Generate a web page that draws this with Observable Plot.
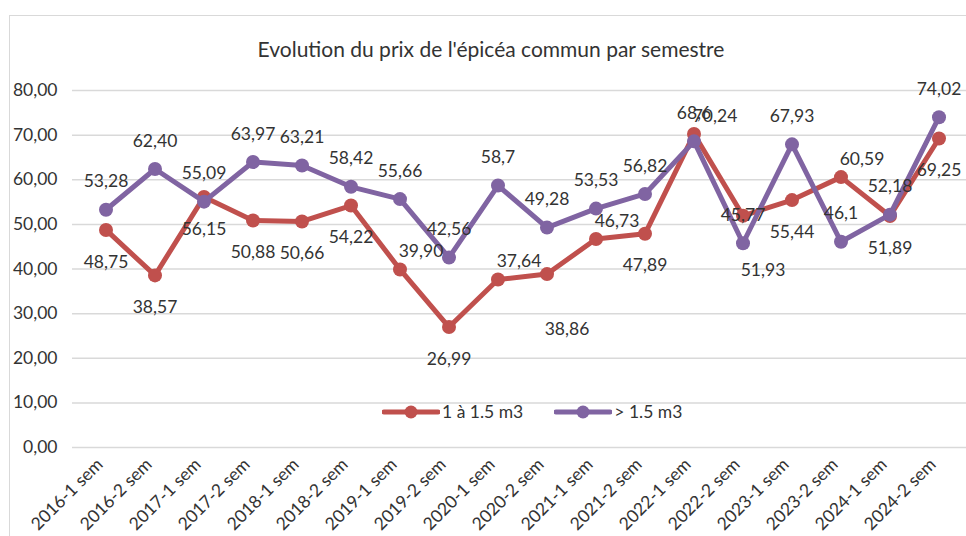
<!DOCTYPE html>
<html>
<head>
<meta charset="utf-8">
<script src="https://cdn.jsdelivr.net/npm/d3@7"></script>
<script src="https://cdn.jsdelivr.net/npm/@observablehq/plot@0.6"></script>
<style>
  html, body { margin: 0; padding: 0; background: #fff; overflow: hidden; }
  #wrap { position: relative; width: 966px; height: 536px; font-family: Lato, "Open Sans", sans-serif; }
  #border { position: absolute; left: 9px; top: 15px; width: 1000px; height: 600px; border: 1.5px solid #d9d9d9; box-sizing: border-box; }
  #title { position: absolute; left: 0; top: 36px; width: 982px; text-align: center; font-size: 21px; color: #333; }
  #chart { position: absolute; left: 0; top: 0; }
  #legend { position: absolute; top: 401px; left: 382px; display: flex; align-items: center; font-size: 17.5px; color: #333; }
  #legend .item { display: flex; align-items: center; margin-right: 31px; }
  #legend svg { margin-right: 2px; }
</style>
</head>
<body>
<div id="wrap">
  <div id="border"></div>
  <div id="chart"></div>
  <div id="title"></div>
  <div id="legend"></div>
</div>
<script>
const titleText = "Evolution du prix de l'épicéa commun par semestre";
const categories = ["2016-1 sem","2016-2 sem","2017-1 sem","2017-2 sem","2018-1 sem","2018-2 sem","2019-1 sem","2019-2 sem","2020-1 sem","2020-2 sem","2021-1 sem","2021-2 sem","2022-1 sem","2022-2 sem","2023-1 sem","2023-2 sem","2024-1 sem","2024-2 sem"];
const seriesNames = ["1 à 1.5 m3", "> 1.5 m3"];
const smallLogs = ["48.75","38.57","56.15","50.88","50.66","54.22","39.90","26.99","37.64","38.86","46.73","47.89","70.24","51.93","55.44","60.59","51.89","69.25"];
const bigLogs = ["53.28","62.40","55.09","63.97","63.21","58.42","55.66","42.56","58.7","49.28","53.53","56.82","68.6","45.77","67.93","46.1","52.18","74.02"];
const yTicks = [0, 10, 20, 30, 40, 50, 60, 70, 80];
const colors = ["#c0504d", "#8064a2"];

// label placement (style only)
const smallPlace = ["b","b","b","b","b","b","ar","b","ar","bb","ar","b","ar","bb","b","ar","b","b"];
const bigPlace = categories.map(() => "a");
const offsets = { a: [0, -28], b: [0, 32], ar: [21, -18], bb: [20, 55] };

const data = [];
[smallLogs, bigLogs].forEach((arr, si) => {
  arr.forEach((s, i) => data.push({
    series: seriesNames[si], cat: categories[i], v: +s, label: s.replace(".", ","),
    place: (si === 0 ? smallPlace : bigPlace)[i]
  }));
});

const fs = 17.5;
const marks = [
  Plot.ruleY(yTicks, { stroke: "#d9d9d9", strokeWidth: 1.5 }),
  Plot.axisY(yTicks, { tickSize: 0, tickPadding: 15, fontSize: fs, fill: "#333",
    tickFormat: d => d.toFixed(2).replace(".", ",") }),
  Plot.axisX({ tickSize: 0, tickRotate: -45, tickPadding: 4, dx: -6, dy: 10, fontSize: fs, fill: "#333" })
];
seriesNames.forEach((name, si) => {
  const d = data.filter(e => e.series === name);
  marks.push(Plot.line(d, { x: "cat", y: "v", stroke: colors[si], strokeWidth: 5, strokeLinejoin: "round" }));
  marks.push(Plot.dot(d, { x: "cat", y: "v", r: 7, fill: colors[si], stroke: "none" }));
});
Object.entries(offsets).forEach(([code, [dx, dy]]) => {
  marks.push(Plot.text(data.filter(e => e.place === code), {
    x: "cat", y: "v", text: "label", dx, dy, fontSize: fs, fill: "#333"
  }));
});

const chart = Plot.plot({
  width: 966,
  height: 536,
  marginLeft: 72,
  marginRight: -5,
  marginTop: 90,
  marginBottom: 89,
  style: { fontFamily: "Lato, 'Open Sans', sans-serif", background: "transparent", overflow: "visible" },
  x: { type: "band", domain: categories, padding: 0, label: null },
  y: { domain: [0, 80], label: null },
  marks
});
document.getElementById("chart").appendChild(chart);
document.getElementById("title").textContent = titleText;

const legend = document.getElementById("legend");
seriesNames.forEach((name, si) => {
  const item = document.createElement("div");
  item.className = "item";
  item.innerHTML = `<svg width="58" height="16"><line x1="2" y1="8" x2="56" y2="8" stroke="${colors[si]}" stroke-width="5" stroke-linecap="round"/><circle cx="29" cy="8" r="6.5" fill="${colors[si]}"/></svg>`;
  const t = document.createElement("span");
  t.textContent = name;
  item.appendChild(t);
  legend.appendChild(item);
});
</script>
</body>
</html>
